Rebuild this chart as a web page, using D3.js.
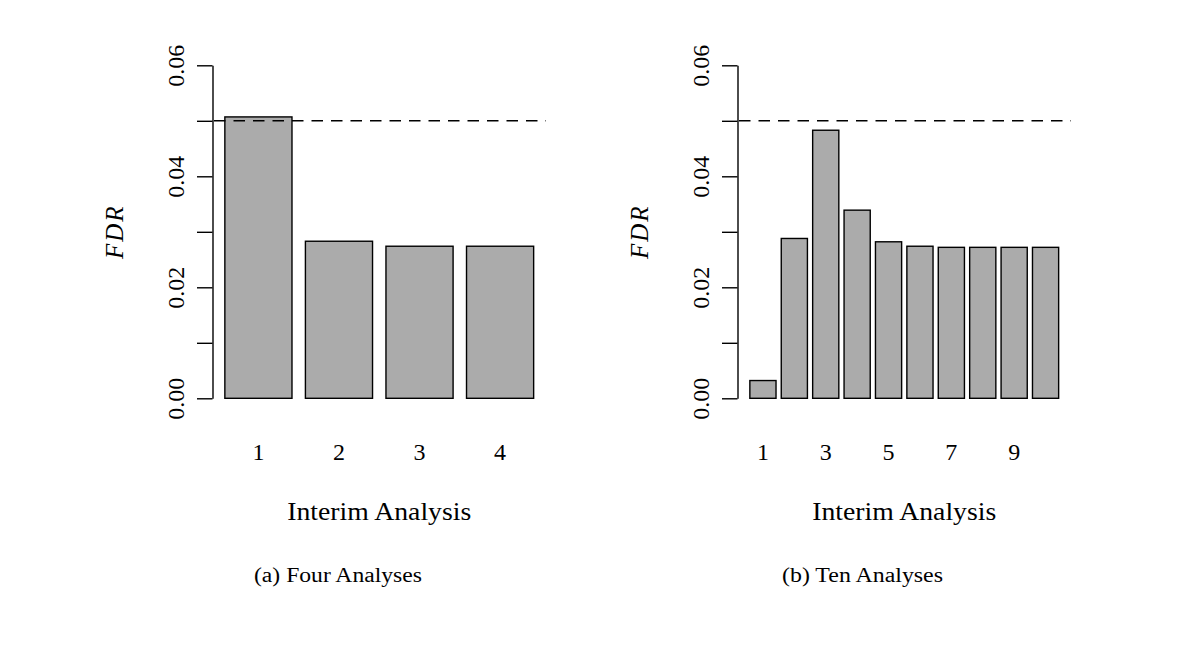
<!DOCTYPE html>
<html>
<head>
<meta charset="utf-8">
<script src="https://cdn.jsdelivr.net/npm/d3@7"></script>
<style>
  html, body { margin: 0; padding: 0; background: #ffffff; }
  svg { display: block; }
  text { font-family: "Liberation Serif", "DejaVu Serif", serif; fill: #000; }
</style>
</head>
<body>
<svg id="chart" width="1200" height="646"></svg>
<script>
// ---- data ----
const fourCategories = ["1", "2", "3", "4"];
const fourValues = [0.0507, 0.0283, 0.0274, 0.0274];
const fourShownLabels = ["1", "2", "3", "4"];

const tenCategories = ["1", "2", "3", "4", "5", "6", "7", "8", "9", "10"];
const tenValues = [0.0032, 0.0288, 0.0483, 0.0339, 0.0282, 0.0274, 0.0272, 0.0272, 0.0272, 0.0272];
const tenShownLabels = ["1", "3", "5", "7", "9"];

const yTicks = [0, 0.01, 0.02, 0.03, 0.04, 0.05, 0.06];
const yTickLabels = ["0.00", "", "0.02", "", "0.04", "", "0.06"];
const yDomain = [0, 0.06];
const referenceLevel = 0.05;

const yTitle = "FDR";
const xTitle = "Interim Analysis";
const captions = ["(a) Four Analyses", "(b) Ten Analyses"];

// ---- drawing ----
const svg = d3.select("#chart");

function panel(opts) {
  const { cats, vals, shown, axisX, caption, captionX, captionLen } = opts;
  const n = cats.length;
  const width = 333.5;
  // R barplot geometry: bar width 1, space 0.2
  const lefts = cats.map((c, i) => 0.2 + 1.2 * i);
  const lo = 0.2, hi = 0.2 + 1.2 * n - 0.2;
  const ext = 0.04 * (hi - lo);
  const x = d3.scaleLinear().domain([lo - ext, hi + ext]).range([axisX, axisX + width]);
  const y = d3.scaleLinear().domain(yDomain).range([398.3, 65.3]);

  const g = svg.append("g");

  // bars
  g.selectAll("rect.bar").data(vals).join("rect")
    .attr("class", "bar")
    .attr("x", (d, i) => x(lefts[i]))
    .attr("width", (d, i) => x(lefts[i] + 1) - x(lefts[i]))
    .attr("y", d => y(d))
    .attr("height", d => y(0) - y(d))
    .attr("fill", "#ababab")
    .attr("stroke", "#000")
    .attr("stroke-width", 1.4);

  // y axis
  const axis = d3.axisLeft(y).tickValues(yTicks).tickSize(15.5).tickSizeOuter(0)
    .tickFormat((d, i) => yTickLabels[i]);
  const ag = g.append("g").attr("transform", `translate(${axisX},0)`).call(axis);
  ag.select(".domain").attr("stroke", "#000").attr("stroke-width", 1.4);
  ag.selectAll(".tick line").attr("stroke", "#000").attr("stroke-width", 1.4);
  ag.selectAll(".tick text")
    .attr("x", null).attr("dy", null)
    .attr("transform", "translate(-29,0) rotate(-90)")
    .attr("text-anchor", "middle")
    .attr("font-family", "Liberation Serif")
    .attr("font-size", 24);

  // reference line
  g.append("line")
    .attr("x1", x.range()[0] + 1.5).attr("x2", x.range()[1])
    .attr("y1", y(referenceLevel)).attr("y2", y(referenceLevel))
    .attr("stroke", "#000").attr("stroke-width", 1.4)
    .attr("stroke-dasharray", "11.5,8");

  // x category labels
  g.selectAll("text.xlab").data(cats).join("text")
    .attr("class", "xlab")
    .filter(d => shown.includes(d))
    .attr("x", d => x(lefts[cats.indexOf(d)] + 0.5))
    .attr("y", 460)
    .attr("text-anchor", "middle")
    .attr("font-size", 24)
    .text(d => d);

  // axis titles
  g.append("text")
    .attr("transform", `translate(${axisX - 90},${(y(0) + y(0.06)) / 2}) rotate(-90)`)
    .attr("text-anchor", "middle")
    .attr("font-style", "italic")
    .attr("font-size", 25)
    .attr("letter-spacing", 2)
    .text(yTitle);

  g.append("text")
    .attr("x", axisX + width / 2)
    .attr("y", 520)
    .attr("text-anchor", "middle")
    .attr("font-size", 25)
    .attr("textLength", 184)
    .attr("lengthAdjust", "spacingAndGlyphs")
    .text(xTitle);

  // caption
  g.append("text")
    .attr("x", captionX)
    .attr("y", 582)
    .attr("text-anchor", "middle")
    .attr("font-size", 20.5)
    .attr("textLength", captionLen)
    .attr("lengthAdjust", "spacingAndGlyphs")
    .text(caption);
}

panel({ cats: fourCategories, vals: fourValues, shown: fourShownLabels, axisX: 212.5,
        caption: captions[0], captionX: 338, captionLen: 168 });
panel({ cats: tenCategories, vals: tenValues, shown: tenShownLabels, axisX: 737.5,
        caption: captions[1], captionX: 862.5, captionLen: 161 });
</script>
</body>
</html>
